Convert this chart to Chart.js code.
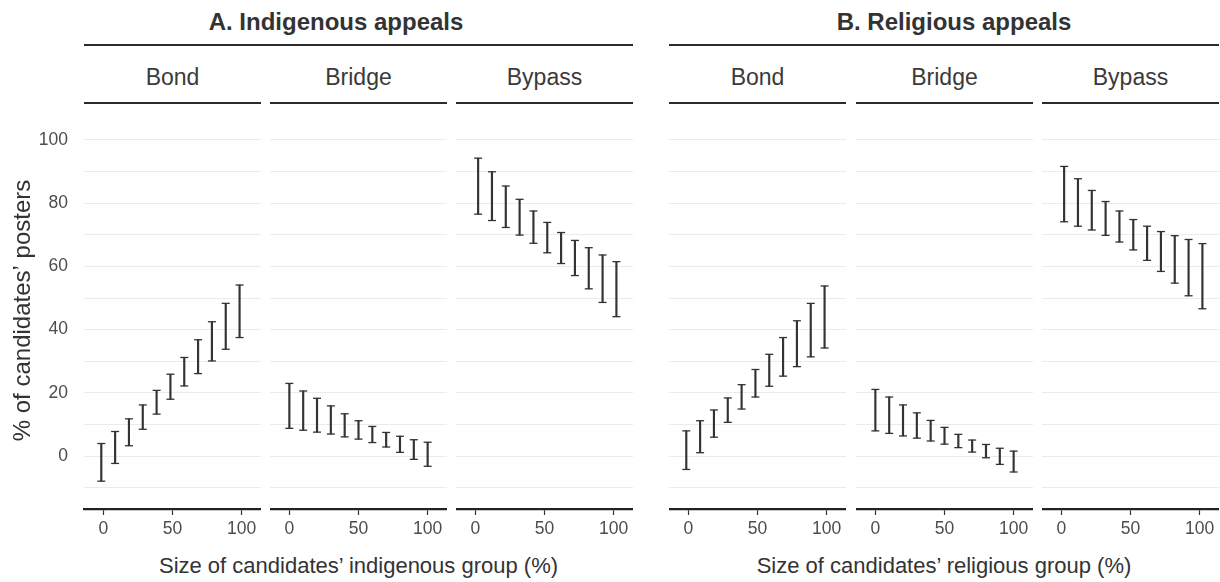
<!DOCTYPE html>
<html>
<head>
<meta charset="utf-8">
<script src="https://cdn.jsdelivr.net/npm/chart.js@4.4.0/dist/chart.umd.min.js"></script>
<style>
  body { margin: 0; background: #fff; width: 1220px; height: 582px; position: relative; overflow: hidden;
         font-family: "Liberation Sans", Arial, sans-serif; }
  canvas { position: absolute; }
  .txt { position: absolute; text-align: center; white-space: nowrap; color: #333; }
  .title { font-weight: bold; font-size: 24px; line-height: 28px; top: 8px; }
  .strip { font-size: 23px; line-height: 28px; top: 63px; color: #3a3a3a; }
  .xtitle { font-size: 22px; line-height: 26px; top: 553px; }
  .rule { position: absolute; background: #2b2b2b; }
</style>
</head>
<body>
<script>
// x positions (group size, %) and facet names
const sizes = [0, 10, 20, 30, 40, 50, 60, 70, 80, 90, 100];
const facets = ["Bond", "Bridge", "Bypass"];
const dodge = [-1.5, 0, 2];

// A. Indigenous appeals: lower / upper ends of the intervals
const indBondLo = [-7.9, -2.3, 3.3, 8.5, 13.3, 18.0, 22.2, 26.1, 30.1, 33.8, 37.5];
const indBondHi = [4.0, 7.8, 11.8, 16.2, 20.8, 25.9, 31.2, 36.8, 42.5, 48.3, 54.1];
const indBridgeLo = [8.8, 8.2, 7.6, 7.0, 6.1, 5.4, 4.3, 2.9, 1.2, -1.0, -3.2];
const indBridgeHi = [23.0, 20.6, 18.3, 15.9, 13.4, 11.2, 9.4, 7.5, 6.3, 5.2, 4.4];
const indBypassLo = [76.5, 74.5, 72.3, 69.9, 67.3, 64.3, 60.9, 57.1, 52.9, 48.6, 44.1];
const indBypassHi = [94.2, 89.9, 85.4, 81.2, 77.5, 73.9, 70.7, 68.2, 65.9, 63.6, 61.5];

// B. Religious appeals
const relBondLo = [-4.2, 1.1, 6.0, 10.7, 14.9, 18.7, 22.1, 25.3, 28.3, 31.4, 34.2];
const relBondHi = [8.0, 11.2, 14.6, 18.4, 22.6, 27.4, 32.2, 37.5, 42.8, 48.3, 53.8];
const relBridgeLo = [8.0, 7.2, 6.4, 5.7, 4.8, 3.8, 2.7, 1.3, -0.5, -2.6, -5.0];
const relBridgeHi = [21.1, 18.7, 16.2, 13.7, 11.3, 9.1, 6.9, 5.1, 3.7, 2.5, 1.6];
const relBypassLo = [74.1, 72.7, 71.5, 69.8, 67.7, 65.2, 61.9, 58.4, 54.7, 50.7, 46.6];
const relBypassHi = [91.6, 87.7, 84.0, 80.5, 77.5, 74.8, 72.7, 71.0, 69.7, 68.5, 67.2];

// axis ticks
const xTicks = [0, 50, 100];
const yGrid = [-10, 0, 10, 20, 30, 40, 50, 60, 70, 80, 90, 100];
const yLabels = [0, 20, 40, 60, 80, 100];

const groups = [
  { title: "A. Indigenous appeals", xTitle: "Size of candidates’ indigenous group (%)",
    lo: [indBondLo, indBridgeLo, indBypassLo], hi: [indBondHi, indBridgeHi, indBypassHi],
    lefts: [84, 270, 456], titleCenter: 336 },
  { title: "B. Religious appeals", xTitle: "Size of candidates’ religious group (%)",
    lo: [relBondLo, relBridgeLo, relBypassLo], hi: [relBondHi, relBridgeHi, relBypassHi],
    lefts: [669, 856, 1042], titleCenter: 954 }
];

const panelW = 177;
const panelTop = 112;
const areaH = 397;
const xAxisH = 40;
const ink = "#333";

function addText(cls, text, left, width) {
  const d = document.createElement("div");
  d.className = "txt " + cls;
  d.textContent = text;
  d.style.left = left + "px";
  d.style.width = width + "px";
  document.body.appendChild(d);
}
function addRule(left, top, width, height) {
  const d = document.createElement("div");
  d.className = "rule";
  d.style.left = left + "px";
  d.style.top = top + "px";
  d.style.width = width + "px";
  d.style.height = height + "px";
  document.body.appendChild(d);
}

groups.forEach((g, gi) => {
  const gLeft = g.lefts[0];
  const gRight = g.lefts[2] + panelW;
  addText("title", g.title, g.titleCenter - 300, 600);
  addRule(gLeft, 44, gRight - gLeft, 2.4);
  addText("xtitle", g.xTitle, (gLeft + gRight) / 2 - 300, 600);

  facets.forEach((f, fi) => {
    const left = g.lefts[fi];
    addText("strip", f, left, panelW);
    addRule(left, 102.3, panelW, 2);

    const withY = gi === 0 && fi === 0;
    const yW = withY ? left : 0;
    const canvas = document.createElement("canvas");
    canvas.width = panelW + yW;
    canvas.height = areaH + xAxisH;
    canvas.style.left = (left - yW) + "px";
    canvas.style.top = panelTop + "px";
    document.body.appendChild(canvas);

    const lo = g.lo[fi], hi = g.hi[fi];
    const xs = sizes.map(s => s + dodge[fi]);

    new Chart(canvas.getContext("2d"), {
      type: "bar",
      data: {
        datasets: [
          {
            type: "bar",
            data: xs.map((x, i) => ({ x: x, y: [lo[i], hi[i]] })),
            backgroundColor: ink,
            borderWidth: 0,
            barThickness: 1.5,
          },
          {
            type: "line",
            showLine: false,
            data: xs.map((x, i) => ({ x: x, y: hi[i] })),
            pointStyle: "line",
            pointRadius: 4,
            pointBorderWidth: 1.3,
            pointBorderColor: ink,
          },
          {
            type: "line",
            showLine: false,
            data: xs.map((x, i) => ({ x: x, y: lo[i] })),
            pointStyle: "line",
            pointRadius: 4,
            pointBorderWidth: 1.3,
            pointBorderColor: ink,
          },
        ],
      },
      options: {
        responsive: false,
        animation: false,
        events: [],
        layout: { padding: 0, autoPadding: false },
        plugins: { legend: { display: false }, tooltip: { enabled: false } },
        scales: {
          x: {
            type: "linear",
            offset: false,
            min: -14,
            max: 114,
            afterBuildTicks: s => { s.ticks = xTicks.map(v => ({ value: v })); },
            afterFit: s => { s.height = xAxisH; s.paddingLeft = 0; s.paddingRight = 0; },
            grid: { display: true, offset: false, drawOnChartArea: false, drawTicks: true, tickLength: 6, tickColor: ink, tickWidth: 1.2 },
            border: { display: true, color: "#222", width: 2.3 },
            ticks: { padding: 4, color: "#4d4d4d", font: { family: "Liberation Sans", size: 17.5 }, maxRotation: 0 },
          },
          y: {
            min: -16.7,
            max: 108.8,
            afterBuildTicks: s => { s.ticks = yGrid.map(v => ({ value: v })); },
            afterFit: s => { s.width = yW; s.paddingTop = 0; s.paddingBottom = 0; },
            grid: { color: "#ebebeb", lineWidth: 1, drawTicks: false },
            border: { display: false },
            ticks: {
              display: withY,
              padding: 16,
              color: "#4d4d4d",
              font: { family: "Liberation Sans", size: 17.5 },
              callback: v => (yLabels.includes(v) ? String(v) : ""),
            },
            title: {
              display: withY,
              text: "% of candidates’ posters",
              color: ink,
              font: { family: "Liberation Sans", size: 24 },
              padding: { top: 9, bottom: 0 },
            },
          },
        },
      },
    });
  });
});
</script>
</body>
</html>
